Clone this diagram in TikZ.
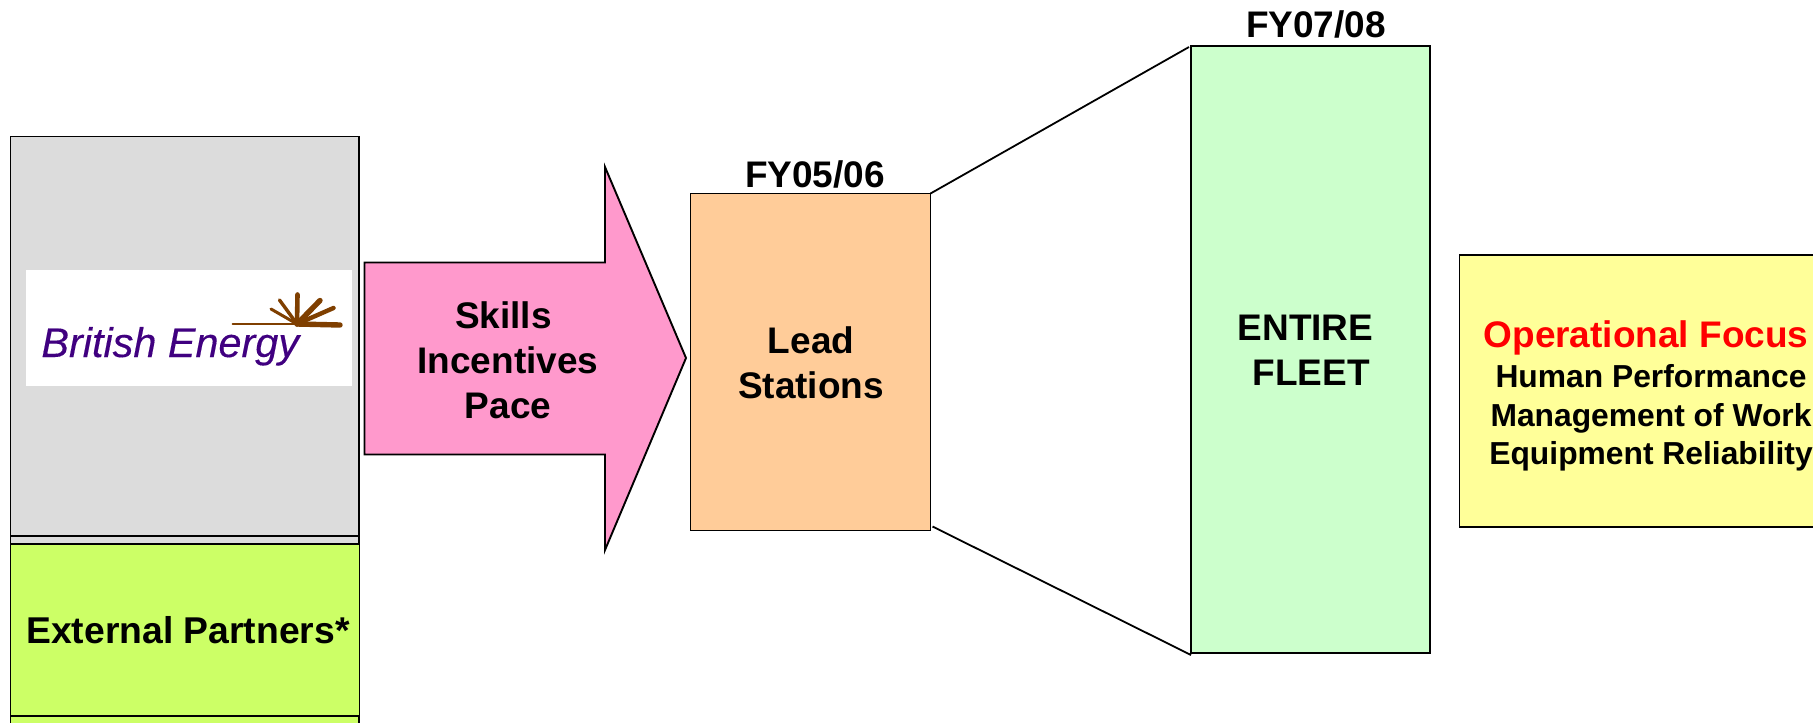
\documentclass[tikz,border=0pt]{standalone}
\usepackage{fontspec}
\setmainfont{Liberation Sans}
\definecolor{grayfill}{HTML}{DCDCDC}
\definecolor{partnerfill}{HTML}{CCFF66}
\definecolor{arrowfill}{HTML}{FF99CC}
\definecolor{leadfill}{HTML}{FFCC99}
\definecolor{fleetfill}{HTML}{CCFFCC}
\definecolor{focusfill}{HTML}{FFFF99}
\definecolor{logotext}{HTML}{400080}
\definecolor{logobrown}{HTML}{7F3F00}
\newcommand{\nudge}[1]{\rule{#1}{0pt}}
\tikzset{
  box/.style={draw=black,line width=0.95pt,rectangle,inner sep=0pt,outer sep=0pt,minimum width=#1},
  lab/.style={font=\bfseries\fontsize{18.5}{22.5}\selectfont,align=center,inner sep=0pt,text=black},
  ray/.style={draw=logobrown,line cap=round},
  link/.style={draw=black,line width=0.9pt}
}
\begin{document}
\begin{tikzpicture}[x=0.5pt,y=-0.5pt]
\useasboundingbox (0,0) rectangle (1813,722);
\clip (0,0) rectangle (1813,722);
% left column
\draw[box=0pt,fill=grayfill] (10.5,136.5) rectangle (359,536);
\draw[box=0pt,fill=grayfill] (10.5,536) rectangle (359,544);
\node[box=349*0.5pt,fill=partnerfill,minimum height=86pt,anchor=north west] (partners) at (10.5,544) {};
\node[lab,font=\bfseries\fontsize{18.65}{22.5}\selectfont] (partnerslab) at (188,630) {External Partners*};
\draw[box=0pt,fill=partnerfill] (10.5,716) rectangle (359,760);
% logo
\node[fill=white,inner sep=0pt,minimum width=163pt,minimum height=58pt,anchor=north west] (logo) at (26,270) {};
\node[anchor=base west,inner sep=0pt,text=logotext,font=\itshape\fontsize{20.7}{24}\selectfont\addfontfeature{FakeBold=0.25}] (logotxt) at (41,357) {British Energy};
\coordinate (sun) at (297,324);
\draw[ray,line width=0.9pt] (232.5,324) -- (sun);
\draw[ray,line width=2.7pt] (sun) -- (340,325);
\draw[ray,line width=1.5pt] (sun) -- (271,309);
\draw[ray,line width=1.7pt] (sun) -- (279.5,300);
\draw[ray,line width=2.3pt] (sun) -- (297.5,294.5);
\draw[ray,line width=2.7pt] (sun) -- (320,300.5);
\draw[ray,line width=2.2pt] (sun) -- (333.5,308);
% arrow
\draw[line width=0.95pt,fill=arrowfill,line join=miter] (364.5,262.5) -- (605,262.5) -- (605,167) -- (686,358) -- (605,550) -- (605,454.5) -- (364.5,454.5) -- cycle;
\node[lab] (arrowlab) at (508,360) {Skills\nudge{4.6pt}\\Incentives\\Pace};
% lead stations
\node[box=240*0.5pt,fill=leadfill,minimum height=168.5pt,anchor=north west] (lead) at (690.5,193.5) {};
\node[lab] (leadlab) at (811,363) {Lead\\Stations};
\node[lab,anchor=base] (fy05) at (815,187) {FY05/06};
% fleet
\node[box=239*0.5pt,fill=fleetfill,minimum height=303.5pt,anchor=north west] (fleet) at (1191,46) {};
\node[lab] (fleetlab) at (1305.5,350) {ENTIRE\\\nudge{5.8pt}FLEET};
\node[lab,anchor=base] (fy07) at (1316,38) {FY07/08};
% connectors
\draw[link] (lead.north east) -- ([shift={(-1pt,-0.5pt)}]fleet.north west);
\draw[link] ([shift={(1pt,2pt)}]lead.south east) -- ([yshift=-1pt]fleet.south west);
% focus
\draw[box=0pt,fill=focusfill] (1459.5,255) rectangle (1860,527);
\node[lab,anchor=base,text=red] (focustitle) at (1646,347) {Operational Focus};
\node[lab,anchor=north,font=\bfseries\fontsize{15.9}{19.3}\selectfont] (focuslist) at (1651,364) {Human Performance\\Management of Work\\Equipment Reliability};
\end{tikzpicture}
\end{document}
